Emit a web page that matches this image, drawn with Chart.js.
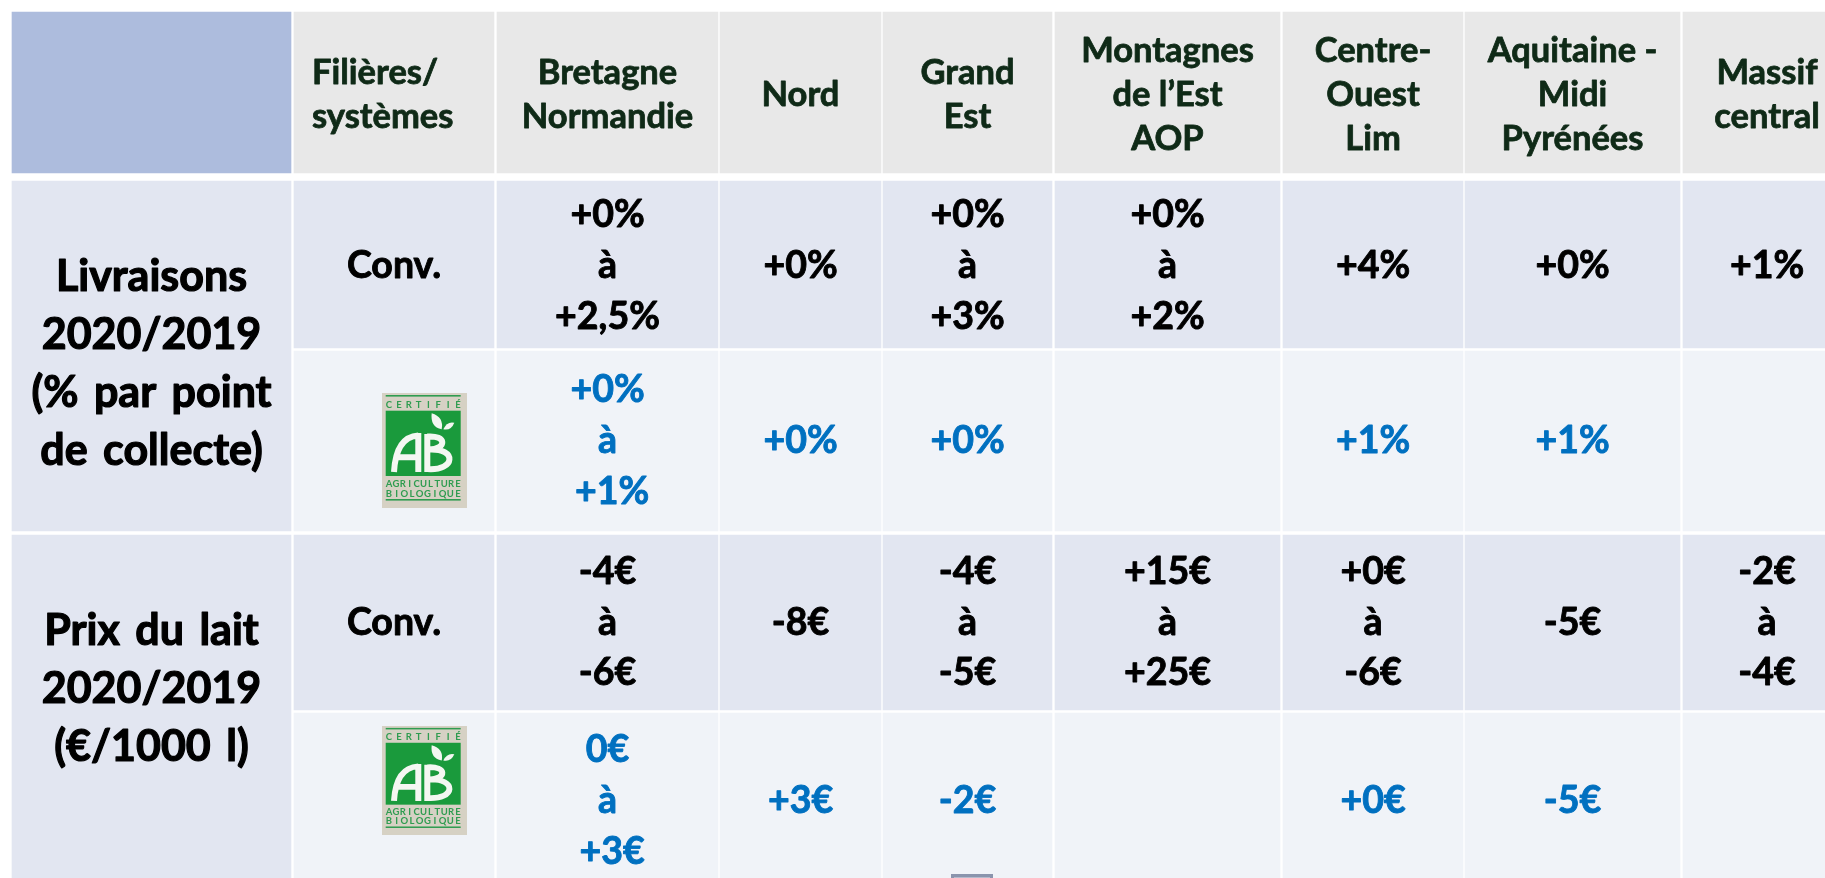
<!DOCTYPE html>
<html lang="fr">
<head>
    <meta charset="UTF-8">
    <title>Livraisons et prix du lait 2020/2019</title>
    <script src="https://cdn.jsdelivr.net/npm/chart.js"></script>
    <style>
        html, body { margin: 0; padding: 0; background: #fff; overflow: hidden; }
        canvas { display: block; }
    </style>
</head>
<body>
    <canvas id="tableChart" width="1825" height="878"></canvas>

    <script>
// Table content, one list per column
const columnLabels = ['Filières/\nsystèmes', 'Bretagne\nNormandie', 'Nord', 'Grand\nEst', 'Montagnes\nde l’Est\nAOP', 'Centre-\nOuest\nLim', 'Aquitaine -\nMidi\nPyrénées', 'Massif\ncentral'];
const groupLabels = ['Livraisons\n2020/2019\n(% par point\nde collecte)', 'Prix du lait\n2020/2019\n(€/1000 l)'];
const systemLabels = ['Conv.', '', 'Conv.', ''];

// Values by region: livraisons conv., livraisons bio, prix conv., prix bio
const bretagneNormandie = ['+0%\nà\n+2,5%', '+0%\nà\n +1%', '-4€\nà\n-6€', '0€\nà\n +3€'];
const nord = ['+0%', '+0%', '-8€', '+3€'];
const grandEst = ['+0%\nà\n+3%', '+0%', '-4€\nà\n-5€', '-2€'];
const montagnesEst = ['+0%\nà\n+2%', '', '+15€\nà\n+25€', ''];
const centreOuest = ['+4%', '+1%', '+0€\nà\n-6€', '+0€'];
const aquitaine = ['+0%', '+1%', '-5€', '-5€'];
const massifCentral = ['+1%', '', '-2€\nà\n-4€', ''];

// Grid layout, in page pixels: [start, end] of each column and row
const columnSpans = [[12, 291], [294, 494], [497, 718], [720, 881], [883, 1052], [1055, 1280], [1283, 1463], [1465, 1680], [1683, 1851]];
const rowSpans = [[12, 173], [181, 348], [351, 531], [535, 710], [713, 885]];
const rowTextShift = [2.5, 1.5, 0, 0, 2];

const headFill = '#e8e8e8';
const cornerFill = '#adbcdd';
const convFill = '#e2e6f1';
const bioFill = '#f0f3f8';
const headInk = '#0f2a17';
const convInk = '#000000';
const bioInk = '#0070c0';
const fontName = 'Lato, "Noto Sans", sans-serif';

function cell(column, rowStart, rowEnd, text, fill, ink, kind) {
  return {
    x: (columnSpans[column][0] + columnSpans[column][1]) / 2,
    y: [rowSpans[rowStart][0], rowSpans[rowEnd][1]],
    text, fill, ink, kind,
    shift: rowTextShift[rowStart]
  };
}

function columnDataset(column, cells) {
  const span = columnSpans[column];
  return {
    data: cells,
    barThickness: span[1] - span[0],
    backgroundColor: cells.map(c => c.fill),
    borderSkipped: false,
    borderWidth: 0
  };
}

// A region column: its header cell and the four value cells
function regionColumn(column, label, values) {
  const cells = [cell(column, 0, 0, label, headFill, headInk, 'head')];
  values.forEach((value, i) => {
    const odd = i % 2 === 1;
    cells.push(cell(column, i + 1, i + 1, value, odd ? bioFill : convFill, odd ? bioInk : convInk, 'value'));
  });
  return columnDataset(column, cells);
}

const datasets = [
  columnDataset(0, [
    cell(0, 0, 0, '', cornerFill, headInk, 'head'),
    cell(0, 1, 2, groupLabels[0], convFill, convInk, 'group1'),
    cell(0, 3, 4, groupLabels[1], convFill, convInk, 'group2')
  ]),
  columnDataset(1, [
    cell(1, 0, 0, columnLabels[0], headFill, headInk, 'headLeft'),
    cell(1, 1, 1, systemLabels[0], convFill, convInk, 'value'),
    cell(1, 2, 2, systemLabels[1], bioFill, bioInk, 'logo'),
    cell(1, 3, 3, systemLabels[2], convFill, convInk, 'value'),
    cell(1, 4, 4, systemLabels[3], bioFill, bioInk, 'logo')
  ]),
  regionColumn(2, columnLabels[1], bretagneNormandie),
  regionColumn(3, columnLabels[2], nord),
  regionColumn(4, columnLabels[3], grandEst),
  regionColumn(5, columnLabels[4], montagnesEst),
  regionColumn(6, columnLabels[5], centreOuest),
  regionColumn(7, columnLabels[6], aquitaine),
  regionColumn(8, columnLabels[7], massifCentral)
];

// font size, line height, outline and vertical shift for each kind of cell
const textStyles = {
  head: { size: 34.5, line: 44, weight: 0.8, shift: 0 },
  headLeft: { size: 34.5, line: 44, weight: 0.8, shift: 0 },
  value: { size: 37.5, line: 50.6, weight: 0.9, shift: 0 },
  group1: { size: 43, line: 58, weight: 1.2, words: '5px', shift: 7 },
  group2: { size: 43, line: 58, weight: 1.2, words: '5px', shift: -21 }
};

function drawCellText(ctx, el, item) {
  const style = textStyles[item.kind];
  if (!style || !item.text) return;
  const lines = item.text.split('\n');
  const middle = (el.y + el.base) / 2 + style.shift + item.shift;
  ctx.font = 'bold ' + style.size + 'px ' + fontName;
  ctx.wordSpacing = style.words || '0px';
  ctx.fillStyle = item.ink;
  ctx.strokeStyle = item.ink;
  ctx.lineWidth = style.weight;
  ctx.lineJoin = 'round';
  ctx.textBaseline = 'middle';
  ctx.textAlign = item.kind === 'headLeft' ? 'left' : 'center';
  const left = el.x - el.width / 2 + 18;
  lines.forEach((line, i) => {
    const y = middle + (i - (lines.length - 1) / 2) * style.line;
    const x = item.kind === 'headLeft' ? left : el.x;
    ctx.fillText(line, x, y);
    ctx.strokeText(line, x, y); // Lato bold is lighter than the original face
  });
  ctx.wordSpacing = '0px';
}

function spacedText(ctx, text, left, right, baseline) {
  const step = (right - left) / (text.length - 1);
  [...text].forEach((ch, i) => ctx.fillText(ch, left + step * i, baseline));
}

// AB label, drawn in a box of 85 x 115 units
function drawLogo(ctx, x, y, w, h) {
  const white = '#f4f7f2';
  ctx.save();
  ctx.translate(x, y);
  ctx.scale(w / 85, h / 115);
  ctx.fillStyle = '#d6d1c4';
  ctx.fillRect(0, 0, 85, 115);
  ctx.fillStyle = '#2f9c50';
  ctx.fillRect(3.7, 2, 75, 1.6);
  ctx.fillRect(3.7, 106, 75, 1.6);
  ctx.fillStyle = '#1a9a3c';
  ctx.fillRect(3.7, 17.7, 75, 65.3);

  ctx.fillStyle = '#2f9c50';
  ctx.textAlign = 'center';
  ctx.textBaseline = 'alphabetic';
  ctx.font = 'bold 9.5px ' + fontName;
  spacedText(ctx, 'CERTIFIÉ', 7, 76, 14.5);
  spacedText(ctx, 'AGRICULTURE', 7, 76, 93.5);
  spacedText(ctx, 'BIOLOGIQUE', 7, 76, 103.5);

  ctx.strokeStyle = white;
  ctx.lineWidth = 6;
  ctx.lineCap = 'butt';
  ctx.beginPath();
  ctx.moveTo(12, 79);
  ctx.quadraticCurveTo(14, 44, 36.3, 42.5);
  ctx.moveTo(36.3, 40);
  ctx.lineTo(36.3, 79);
  ctx.moveTo(14, 64.3);
  ctx.lineTo(36.3, 64.3);
  ctx.moveTo(45.3, 41);
  ctx.lineTo(45.3, 79);
  ctx.moveTo(45.3, 43.5);
  ctx.bezierCurveTo(65, 42, 65, 56, 47, 56.5);
  ctx.bezierCurveTo(75, 55, 74, 78, 45.3, 76);
  ctx.stroke();

  ctx.fillStyle = white;
  ctx.beginPath();
  ctx.moveTo(49.7, 20.3);
  ctx.quadraticCurveTo(62, 24, 59.7, 36.3);
  ctx.quadraticCurveTo(48, 34, 49.7, 20.3);
  ctx.fill();
  ctx.beginPath();
  ctx.moveTo(61.3, 36.3);
  ctx.quadraticCurveTo(65, 28, 72.3, 29.7);
  ctx.quadraticCurveTo(69, 38, 61.3, 36.3);
  ctx.fill();
  ctx.restore();
}

const tableText = {
  id: 'tableText',
  afterDatasetsDraw(chart) {
    const ctx = chart.ctx;
    const xs = chart.scales.x;
    const ys = chart.scales.y;
    ctx.save();
    chart.data.datasets.forEach((ds, d) => {
      chart.getDatasetMeta(d).data.forEach((el, i) => drawCellText(ctx, el, ds.data[i]));
    });
    // the two AB labels sit in the second column
    drawLogo(ctx, xs.getPixelForValue(382), ys.getPixelForValue(393), 85, 115);
    drawLogo(ctx, xs.getPixelForValue(382), ys.getPixelForValue(726), 85, 109);
    // stray slide marker cut by the bottom edge
    ctx.fillStyle = '#8a94ad';
    ctx.fillRect(xs.getPixelForValue(951), ys.getPixelForValue(874), 42, 4);
    ctx.fillStyle = '#b4bbcd';
    ctx.fillRect(xs.getPixelForValue(954), ys.getPixelForValue(877), 36, 1);
    ctx.restore();
  }
};

new Chart(document.getElementById('tableChart').getContext('2d'), {
  type: 'bar',
  data: { datasets },
  plugins: [tableText],
  options: {
    responsive: false,
    animation: false,
    layout: { padding: 0 },
    datasets: { bar: { grouped: false } },
    scales: {
      x: { type: 'linear', min: 0, max: 1825, offset: false, display: false },
      y: { type: 'linear', min: 0, max: 878, reverse: true, display: false }
    },
    plugins: { legend: { display: false }, tooltip: { enabled: false } }
  }
});
    </script>
</body>
</html>
